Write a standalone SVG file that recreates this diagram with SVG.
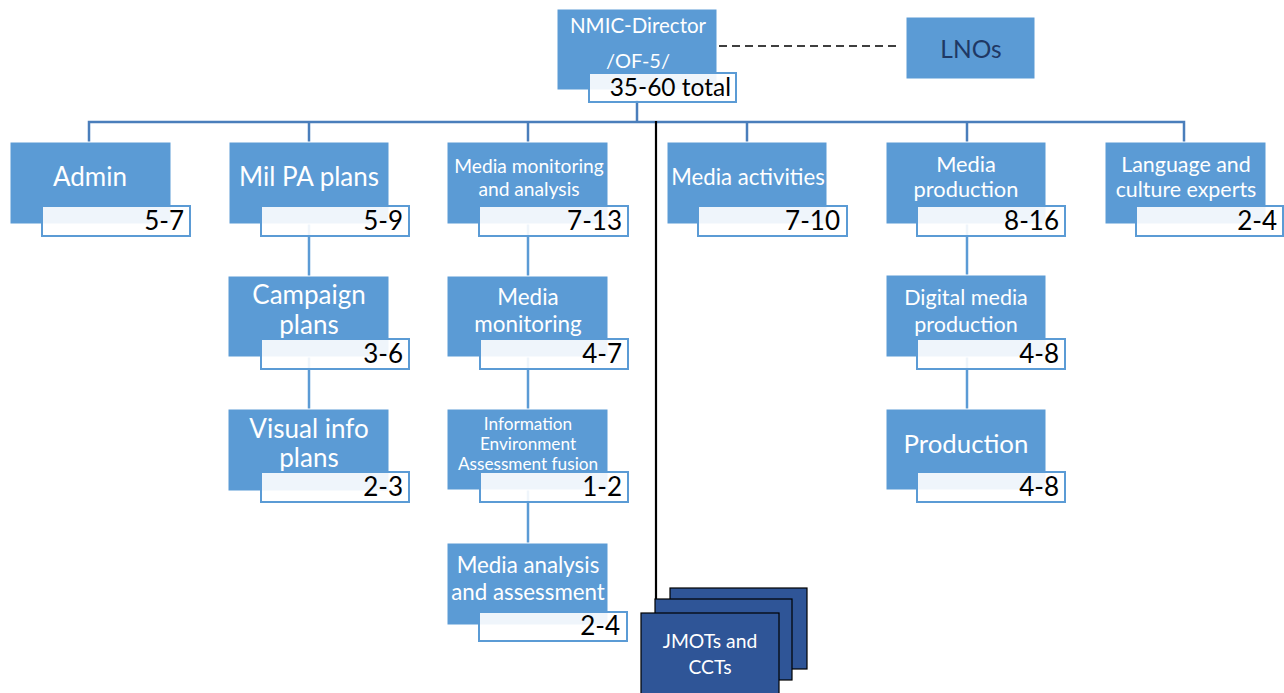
<svg xmlns="http://www.w3.org/2000/svg" width="1284" height="693" viewBox="0 0 1284 693">
  <style>
    .box { fill: #5B9BD5; stroke: #ffffff; stroke-width: 1; }
    .lbl { fill: #ffffff; fill-opacity: 0.9; stroke: #5B9BD5; stroke-width: 2; }
    .card { fill: #2F5597; stroke: #000000; stroke-width: 1.2; }
    .t { font-family: Lato, "Liberation Sans", sans-serif; fill: #ffffff; text-anchor: middle; }
    .n { font-family: Lato, "Liberation Sans", sans-serif; fill: #000000; text-anchor: end; font-size: 26px; }
    .bus { stroke: #4A7EBB; stroke-width: 2.5; fill: none; }
    .link { stroke: #5B9BD5; stroke-width: 2.5; fill: none; }
  </style>

  <g id="connectors">
    <!-- main bus under the director -->
    <line class="bus" x1="637" y1="100" x2="637" y2="122"/>
    <polyline class="bus" points="89,142 89,122 1184,122 1184,142"/>
    <line class="bus" x1="309" y1="122" x2="309" y2="142"/>
    <line class="bus" x1="528" y1="122" x2="528" y2="142"/>
    <line class="bus" x1="747" y1="122" x2="747" y2="142"/>
    <line class="bus" x1="967" y1="122" x2="967" y2="142"/>
    <!-- column links -->
    <line class="link" x1="309" y1="224" x2="309" y2="276"/>
    <line class="link" x1="309" y1="357" x2="309" y2="409"/>
    <line class="link" x1="528" y1="224" x2="528" y2="276"/>
    <line class="link" x1="528" y1="357" x2="528" y2="409"/>
    <line class="link" x1="528" y1="490" x2="528" y2="543"/>
    <line class="link" x1="967" y1="224" x2="967" y2="276"/>
    <line class="link" x1="967" y1="357" x2="967" y2="409"/>
    <!-- liaison link -->
    <line x1="719" y1="46" x2="896" y2="46" stroke="#000000" stroke-width="1.6" stroke-dasharray="8,5"/>
    <!-- line to the teams -->
    <line x1="656" y1="121" x2="656" y2="600" stroke="#000000" stroke-width="2.2"/>
  </g>

  <g id="director">
    <rect class="box" x="557" y="9" width="160" height="81"/>
    <text class="t" x="638" y="33" font-size="20.5">NMIC-Director</text>
    <text class="t" x="638" y="68" font-size="20">/OF-5/</text>
    <rect class="lbl" x="589" y="73" width="147" height="29"/>
    <text class="n" x="731" y="96" style="font-size:24.5px">35-60 total</text>
  </g>

  <g id="lnos">
    <rect class="box" x="906" y="17" width="129" height="62"/>
    <text class="t" x="971" y="58" font-size="24.5" style="fill:#1F3864">LNOs</text>
  </g>

  <g id="admin">
    <rect class="box" x="10" y="142" width="161" height="82"/>
    <text class="t" x="90" y="186" font-size="26">Admin</text>
    <rect class="lbl" x="42" y="206" width="148" height="30"/>
    <text class="n" x="184" y="230">5-7</text>
  </g>

  <g id="mil-pa-plans">
    <rect class="box" x="229" y="142" width="160" height="82"/>
    <text class="t" x="309" y="186" font-size="26">Mil PA plans</text>
    <rect class="lbl" x="261" y="206" width="148" height="30"/>
    <text class="n" x="403" y="230">5-9</text>
  </g>

  <g id="campaign-plans">
    <rect class="box" x="228" y="276" width="161" height="81"/>
    <text class="t" x="309" y="304" font-size="26">Campaign</text>
    <text class="t" x="309" y="334" font-size="26">plans</text>
    <rect class="lbl" x="261" y="339" width="148" height="30"/>
    <text class="n" x="403" y="363">3-6</text>
  </g>

  <g id="visual-info-plans">
    <rect class="box" x="228" y="409" width="161" height="82"/>
    <text class="t" x="309" y="438" font-size="26">Visual info</text>
    <text class="t" x="309" y="467" font-size="26">plans</text>
    <rect class="lbl" x="261" y="472" width="148" height="30"/>
    <text class="n" x="403" y="496">2-3</text>
  </g>

  <g id="media-monitoring-analysis">
    <rect class="box" x="447" y="142" width="161" height="82"/>
    <text class="t" x="529" y="173" font-size="19.2">Media monitoring</text>
    <text class="t" x="529" y="196" font-size="19.2">and analysis</text>
    <rect class="lbl" x="479" y="206" width="149" height="30"/>
    <text class="n" x="622" y="230">7-13</text>
  </g>

  <g id="media-monitoring">
    <rect class="box" x="447" y="276" width="161" height="81"/>
    <text class="t" x="528" y="305" font-size="22.4">Media</text>
    <text class="t" x="528" y="332" font-size="22.4">monitoring</text>
    <rect class="lbl" x="480" y="339" width="148" height="30"/>
    <text class="n" x="622" y="363">4-7</text>
  </g>

  <g id="info-environment-fusion">
    <rect class="box" x="447" y="409" width="161" height="81"/>
    <text class="t" x="528" y="430" font-size="17.2">Information</text>
    <text class="t" x="528" y="450" font-size="17.2">Environment</text>
    <text class="t" x="528" y="470" font-size="17.2">Assessment fusion</text>
    <rect class="lbl" x="480" y="472" width="148" height="30"/>
    <text class="n" x="622" y="496">1-2</text>
  </g>

  <g id="media-analysis-assessment">
    <rect class="box" x="447" y="543" width="161" height="82"/>
    <text class="t" x="528" y="573" font-size="22.3">Media analysis</text>
    <text class="t" x="528" y="600" font-size="22.3">and assessment</text>
    <rect class="lbl" x="479" y="612" width="148" height="29"/>
    <text class="n" x="620" y="635">2-4</text>
  </g>

  <g id="media-activities">
    <rect class="box" x="667" y="142" width="160" height="82"/>
    <text class="t" x="748" y="185" font-size="22.2">Media activities</text>
    <rect class="lbl" x="698" y="206" width="149" height="30"/>
    <text class="n" x="840" y="230">7-10</text>
  </g>

  <g id="media-production">
    <rect class="box" x="886" y="142" width="160" height="82"/>
    <text class="t" x="966" y="172" font-size="21.8">Media</text>
    <text class="t" x="966" y="197" font-size="21.8">production</text>
    <rect class="lbl" x="917" y="206" width="148" height="30"/>
    <text class="n" x="1059" y="230">8-16</text>
  </g>

  <g id="digital-media-production">
    <rect class="box" x="886" y="275" width="160" height="82"/>
    <text class="t" x="966" y="305" font-size="21.5">Digital media</text>
    <text class="t" x="966" y="332" font-size="21.5">production</text>
    <rect class="lbl" x="917" y="339" width="148" height="30"/>
    <text class="n" x="1059" y="363">4-8</text>
  </g>

  <g id="production">
    <rect class="box" x="886" y="409" width="160" height="81"/>
    <text class="t" x="966" y="453" font-size="25.8">Production</text>
    <rect class="lbl" x="917" y="472" width="148" height="30"/>
    <text class="n" x="1059" y="496">4-8</text>
  </g>

  <g id="language-culture-experts">
    <rect class="box" x="1105" y="142" width="161" height="82"/>
    <text class="t" x="1186" y="172" font-size="21.4">Language and</text>
    <text class="t" x="1186" y="197" font-size="21.4">culture experts</text>
    <rect class="lbl" x="1136" y="206" width="147" height="30"/>
    <text class="n" x="1277" y="230">2-4</text>
  </g>

  <g id="jmots-ccts">
    <rect class="card" x="670" y="588" width="137" height="81"/>
    <rect class="card" x="655" y="599" width="137" height="81"/>
    <rect class="card" x="641" y="613" width="138" height="85"/>
    <text class="t" x="710" y="648" font-size="19.3">JMOTs and</text>
    <text class="t" x="710" y="674" font-size="19.3">CCTs</text>
  </g>
</svg>
